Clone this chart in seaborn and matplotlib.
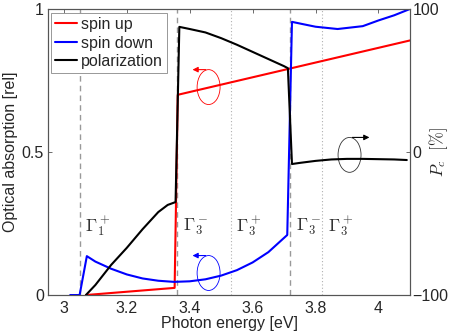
import numpy as np
import pandas as pd
import matplotlib
matplotlib.use('Agg')
import matplotlib.pyplot as plt
import seaborn as sns
from matplotlib.patches import Ellipse

# data
# spin up absorption (left axis)
up_x = [3.07, 3.352, 3.362, 4.10]
up_y = [0.0, 0.025, 0.70, 0.89]

# spin down absorption (left axis)
down_x = [3.02, 3.05, 3.073, 3.10, 3.15, 3.20, 3.25, 3.30, 3.35, 3.40, 3.45,
          3.50, 3.55, 3.60, 3.65, 3.70, 3.71, 3.725, 3.76, 3.80, 3.87, 3.95,
          4.00, 4.05, 4.10]
down_y = [0.0, 0.0, 0.136, 0.117, 0.092, 0.072, 0.058, 0.050, 0.046, 0.048, 0.055,
          0.068, 0.087, 0.114, 0.150, 0.200, 0.210, 0.955, 0.947, 0.938, 0.930, 0.940,
          0.960, 0.978, 1.0]

# circular polarization in % (right axis)
pol_x = [3.07, 3.10, 3.15, 3.20, 3.25, 3.30, 3.33, 3.355, 3.367, 3.40, 3.45,
         3.50, 3.55, 3.60, 3.65, 3.70, 3.712, 3.725, 3.75, 3.80, 3.85, 3.90,
         3.95, 4.00, 4.05, 4.09]
pol_y = [-100, -93, -79, -67, -54, -42, -37, -35, 87.5, 86, 83.6,
         79.6, 75, 70, 65, 60, 58.6, -8.4, -7.6, -6.2, -5.2, -4.8,
         -4.8, -5.0, -5.2, -5.6]

# band edge markers
edge_x = [3.05, 3.36, 3.53, 3.72, 3.82]
edge_style = ['--', '--', ':', '--', ':']
edge_labels = [r'$\Gamma_1^+$', r'$\Gamma_3^-$', r'$\Gamma_3^+$', r'$\Gamma_3^-$', r'$\Gamma_3^+$']

sns.set_style('white')
plt.rcParams['font.family'] = ['Liberation Sans', 'DejaVu Sans']
plt.rcParams['mathtext.fontset'] = 'cm'
plt.rcParams['xtick.direction'] = 'in'
plt.rcParams['ytick.direction'] = 'in'

fs = 11.5

fig = plt.figure(figsize=(4.5, 3.33), dpi=100)
ax = fig.add_axes([0.107, 0.114, 0.804, 0.859])
ax2 = ax.twinx()

for x, ls in zip(edge_x, edge_style):
    if ls == '--':
        ax.axvline(x, color='#999999', ls=(0, (4, 3)), lw=1.0, zorder=0)
    else:
        ax.axvline(x, color='#b0b0b0', ls=(0, (1, 2)), lw=0.8, zorder=0)
for x, lab in zip(edge_x, edge_labels):
    ax.text(x + 0.018, 0.24, lab, fontsize=13, color='#333333', va='center', ha='left')

up = pd.DataFrame({'x': up_x, 'y': up_y})
down = pd.DataFrame({'x': down_x, 'y': down_y})
pol = pd.DataFrame({'x': pol_x, 'y': pol_y})

sns.lineplot(data=up, x='x', y='y', ax=ax, color='red', lw=1.5, sort=False, estimator=None, label='spin up')
sns.lineplot(data=down, x='x', y='y', ax=ax, color='blue', lw=1.5, sort=False, estimator=None, label='spin down')
sns.lineplot(data=pol, x='x', y='y', ax=ax2, color='black', lw=1.5, sort=False, estimator=None, label='polarization')

# circular arrows
for (cx, cy, col, x_to) in [(3.46, 0.727, 'red', 3.40), (3.46, 0.077, 'blue', 3.40)]:
    ax.add_patch(Ellipse((cx, cy), 0.073, 0.122, fill=False, ec=col, lw=0.6))
    ax.annotate('', xy=(x_to, cy + 0.061), xytext=(cx, cy + 0.061),
                arrowprops=dict(arrowstyle='-|>', color=col, lw=0.8, mutation_scale=8))
ax2.add_patch(Ellipse((3.908, -2.0), 0.073, 24.4, fill=False, ec='#333333', lw=0.6))
ax2.annotate('', xy=(3.98, 10.2), xytext=(3.908, 10.2),
             arrowprops=dict(arrowstyle='-|>', color='black', lw=0.8, mutation_scale=8))

ax.set_xlim(2.95, 4.1)
ax.set_ylim(0, 1)
ax2.set_ylim(-100, 100)
ax.set_xticks([3, 3.2, 3.4, 3.6, 3.8, 4])
ax.set_xticklabels(['3', '3.2', '3.4', '3.6', '3.8', '4'])
ax.set_yticks([0, 0.5, 1])
ax.set_yticklabels(['0', '0.5', '1'])
ax2.set_yticks([-100, 0, 100])
ax2.set_yticklabels(['\u2212100', '0', '100'])
ax.tick_params(axis='x', labelsize=fs, length=3, width=0.6, color='#555555', top=True, pad=4)
ax.tick_params(axis='y', labelsize=fs, length=3, width=0.6, color='#555555', pad=3)
ax2.tick_params(axis='y', labelsize=fs, length=3, width=0.6, color='#555555', pad=2)

ax.set_xlabel('Photon energy [eV]', fontsize=fs, labelpad=0)
ax.set_ylabel('Optical absorption [rel]', fontsize=fs, labelpad=3)
ax2.set_ylabel(r'$P_c\ \ [\%]$', fontsize=12, rotation=90)
ax2.yaxis.set_label_coords(1.048, 0.5)

for a in (ax, ax2):
    for s in a.spines.values():
        s.set_color('#555555')
        s.set_linewidth(0.8)

h1, l1 = ax.get_legend_handles_labels()
h2, l2 = ax2.get_legend_handles_labels()
ax2.get_legend().remove()
ax.get_legend().remove()
leg = ax2.legend(h1 + h2, l1 + l2, loc='upper left', bbox_to_anchor=(0.008, 0.986), borderaxespad=0,
                 fontsize=fs, handlelength=1.4, handletextpad=0.25, labelspacing=0.22,
                 fancybox=False, framealpha=1, edgecolor='#888888', borderpad=0.25)
leg.get_frame().set_linewidth(0.6)

fig.savefig('out.png', dpi=100)
